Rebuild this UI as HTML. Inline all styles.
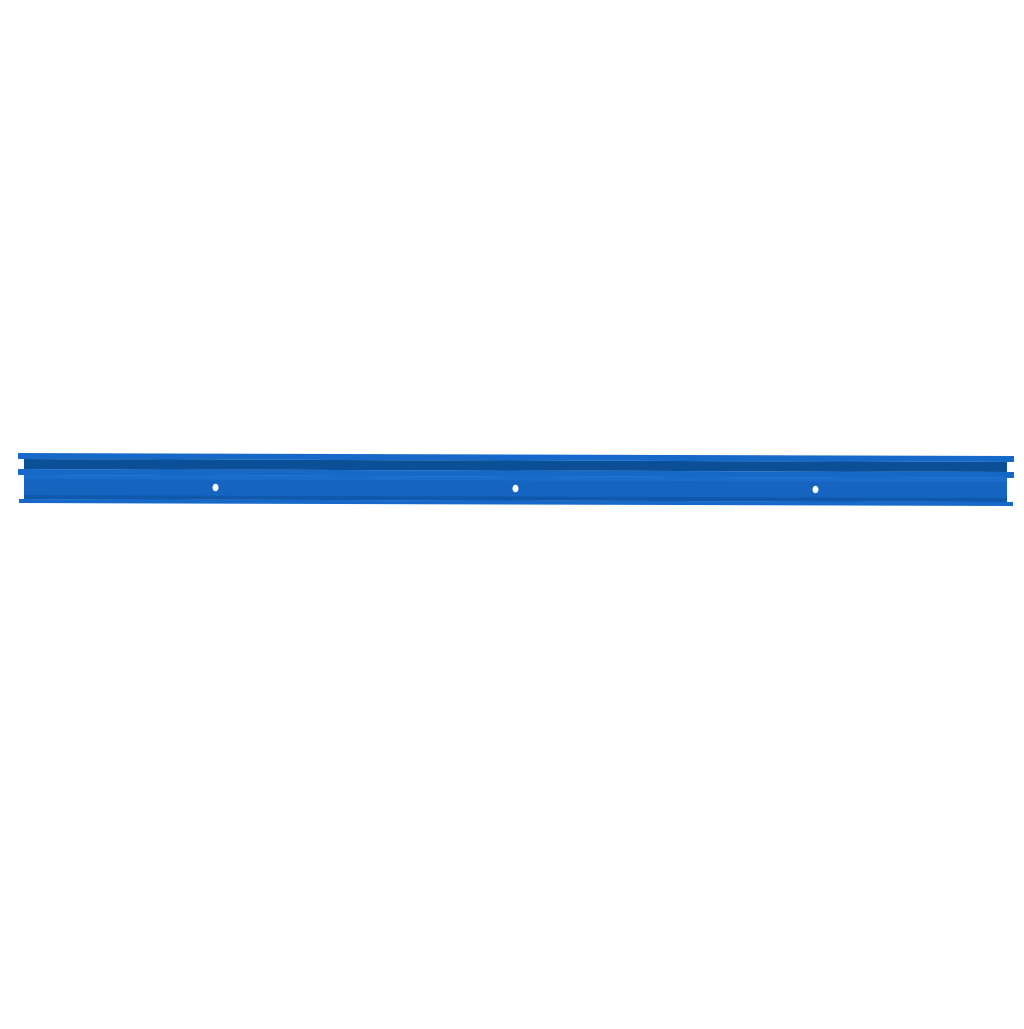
<!DOCTYPE html>
<html><head><style>html,body{margin:0;padding:0;background:#fff}</style></head>
<body>
<svg width="1024" height="1024" viewBox="0 0 1024 1024" xmlns="http://www.w3.org/2000/svg">
<rect width="1024" height="1024" fill="#fff"/>
<!-- dark channel -->
<polygon points="24,459 1007,462 1007,472 24,469" fill="#0b4f96"/>
<!-- body -->
<polygon points="24,475 1007,478 1007,502 24,499" fill="#1565c0"/>
<polygon points="24,475 1007,478 1007,482 24,479" fill="#1a6dcc"/>
<polygon points="24,495 1007,498 1007,502 24,499" fill="#0f58ab"/>
<!-- top flange -->
<polygon points="18,453 1014,456 1014,462 18,459" fill="#1669c8"/>
<!-- middle flange -->
<polygon points="18,469 1014,472 1014,478 18,475" fill="#1669c8"/>
<!-- bottom flange -->
<polygon points="19,499 1013,502 1013,506 19,503" fill="#1669c8"/>
<!-- holes -->
<ellipse cx="215.5" cy="487.5" rx="3" ry="3.8" fill="#fff"/>
<ellipse cx="515.5" cy="488.5" rx="3" ry="3.8" fill="#fff"/>
<ellipse cx="815.5" cy="489.5" rx="3" ry="3.8" fill="#fff"/>
</svg>
</body></html>
